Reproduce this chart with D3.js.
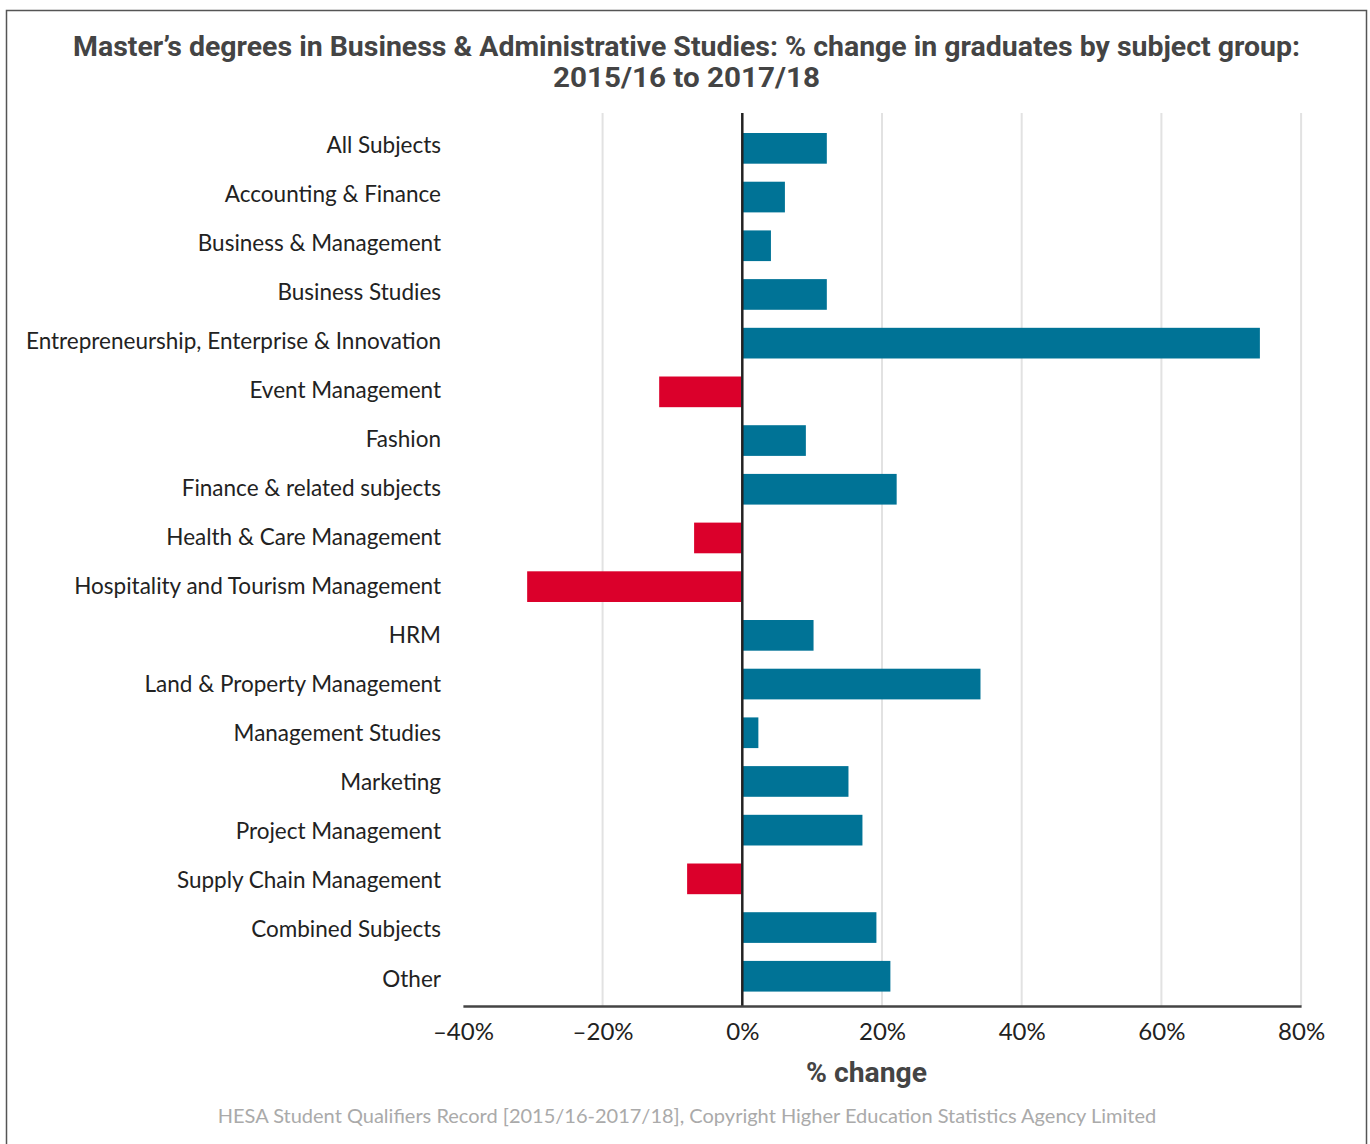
<!DOCTYPE html>
<html>
<head>
<meta charset="utf-8">
<script src="https://cdn.jsdelivr.net/npm/d3@7"></script>
<style>
  html, body { margin: 0; padding: 0; background: #fff; }
  svg { display: block; }
</style>
</head>
<body>
<svg id="chart" width="1370" height="1144"></svg>
<script>
// Subject groups, top to bottom
const subjects = [
  "All Subjects",
  "Accounting & Finance",
  "Business & Management",
  "Business Studies",
  "Entrepreneurship, Enterprise & Innovation",
  "Event Management",
  "Fashion",
  "Finance & related subjects",
  "Health & Care Management",
  "Hospitality and Tourism Management",
  "HRM",
  "Land & Property Management",
  "Management Studies",
  "Marketing",
  "Project Management",
  "Supply Chain Management",
  "Combined Subjects",
  "Other"
];

// % change in graduates, 2015/16 to 2017/18
const pctChange = [
  12.1, 6.1, 4.1, 12.1, 74.1, -11.9, 9.1, 22.1, -6.9, -30.8,
  10.2, 34.1, 2.3, 15.2, 17.2, -7.9, 19.2, 21.2
];

const xTicks = [-40, -20, 0, 20, 40, 60, 80];
const xTickLabels = ["\u201340%", "\u201320%", "0%", "20%", "40%", "60%", "80%"];

const titleLines = [
  "Master\u2019s degrees in Business & Administrative Studies: % change in graduates by subject group:",
  "2015/16 to 2017/18"
];
const xAxisTitle = "% change";
const sourceNote = "HESA Student Qualifiers Record [2015/16-2017/18], Copyright Higher Education Statistics Agency Limited";

const rows = subjects.map((s, i) => ({ subject: s, value: pctChange[i] }));

const svg = d3.select("#chart");
const FONT = "Lato, 'Open Sans', sans-serif";
const TITLE_FONT = "Roboto, 'Noto Sans', sans-serif";

// Outer frame
svg.append("rect")
  .attr("x", 6.5).attr("y", 10.5)
  .attr("width", 1360).attr("height", 1150)
  .attr("fill", "none").attr("stroke", "#555").attr("stroke-width", 1.5);

const x = d3.scaleLinear().domain([-40, 80]).range([462.9, 1301.1]);
const y = d3.scaleBand().domain(subjects).range([124, 1000.6])
  .paddingInner(0.37).paddingOuter(0.185);
// label baselines run a touch wider than the bar centres
const yLabel = d3.scalePoint().domain(subjects).range([152.3, 986]);

const plotTop = 113, plotBottom = 1006;

// Vertical gridlines
svg.append("g").selectAll("line")
  .data(xTicks.filter(t => t !== 0 && t !== -40))
  .join("line")
  .attr("x1", d => x(d)).attr("x2", d => x(d))
  .attr("y1", plotTop).attr("y2", plotBottom)
  .attr("stroke", "#e2e2e2").attr("stroke-width", 2);

// Bars
svg.append("g").selectAll("rect")
  .data(rows)
  .join("rect")
  .attr("x", d => x(Math.min(0, d.value)))
  .attr("width", d => Math.abs(x(d.value) - x(0)))
  .attr("y", d => y(d.subject))
  .attr("height", y.bandwidth())
  .attr("fill", d => d.value < 0 ? "#db002b" : "#007396");

// Zero line
svg.append("line")
  .attr("x1", x(0)).attr("x2", x(0))
  .attr("y1", plotTop).attr("y2", plotBottom)
  .attr("stroke", "#222").attr("stroke-width", 2.5);

// Bottom axis
const xAxis = d3.axisBottom(x)
  .tickValues(xTicks)
  .tickFormat((d, i) => xTickLabels[i])
  .tickSize(0)
  .tickPadding(17);

const gx = svg.append("g")
  .attr("transform", `translate(0,${plotBottom})`)
  .call(xAxis);
gx.select(".domain").attr("stroke", "#444").attr("stroke-width", 2.5);
gx.selectAll("text")
  .attr("font-family", FONT).attr("font-size", 24).attr("fill", "#222");

// Category labels
const yAxis = d3.axisLeft(yLabel).tickSize(0).tickPadding(0);
const gy = svg.append("g")
  .attr("transform", "translate(441,0)")
  .call(yAxis);
gy.select(".domain").remove();
gy.selectAll("text")
  .attr("font-family", FONT).attr("font-size", 22.5).attr("fill", "#222")
  .attr("dy", 0);

// Title
const titleWidths = [1227, 267];
svg.append("g").selectAll("text")
  .data(titleLines)
  .join("text")
  .attr("x", 686.5).attr("y", (d, i) => 56 + i * 31)
  .attr("text-anchor", "middle")
  .attr("font-family", TITLE_FONT).attr("font-weight", "bold")
  .attr("font-size", 28).attr("fill", "#444")
  .attr("textLength", (d, i) => titleWidths[i])
  .attr("lengthAdjust", "spacingAndGlyphs")
  .text(d => d);

// Axis title
svg.append("text")
  .attr("x", 866.5).attr("y", 1082)
  .attr("text-anchor", "middle")
  .attr("font-family", TITLE_FONT).attr("font-weight", "bold")
  .attr("font-size", 28).attr("fill", "#444")
  .attr("textLength", 121)
  .attr("lengthAdjust", "spacingAndGlyphs")
  .text(xAxisTitle);

// Source
svg.append("text")
  .attr("x", 687).attr("y", 1123)
  .attr("text-anchor", "middle")
  .attr("font-family", FONT).attr("font-size", 20).attr("fill", "#aaa")
  .text(sourceNote);
</script>
</body>
</html>
